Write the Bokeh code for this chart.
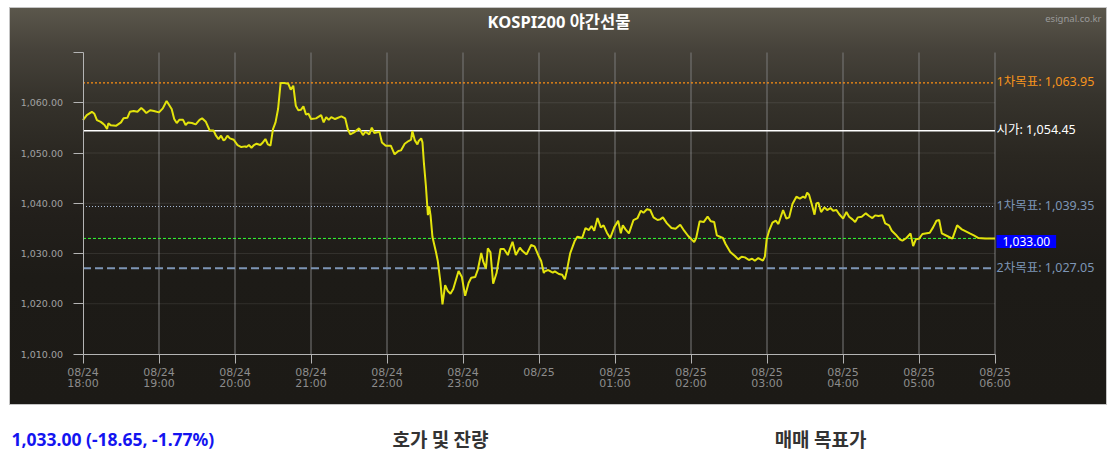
import datetime as dt
from bokeh.plotting import figure
from bokeh.models import Label, FixedTicker, NumeralTickFormatter, Range1d
from bokeh.embed import file_html
from bokeh.resources import INLINE

# ---------------- data ----------------
title_text = "KOSPI200 야간선물"
source_text = "esignal.co.kr"
session_start = dt.datetime(2023, 8, 24, 18, 0)
session_hours = 12

# minutes after 18:00 and night-futures price
minutes = [
    0, 3, 7, 9, 11, 14, 16, 17, 19, 20, 22, 26, 30, 32, 35, 37, 40, 43, 46, 48,
    50, 53, 56, 60, 63, 66, 70, 72, 74, 76, 79, 81, 83, 86, 89, 92, 94, 97, 100, 103,
    105, 107, 109, 111, 112, 114, 116, 119, 122, 125, 128, 129, 131, 133, 135, 137, 140, 142, 144, 146,
    148, 150, 152, 154, 156, 159, 162, 164, 166, 168, 170, 172, 174, 176, 178, 180,
    184, 188, 190, 192, 194, 196, 199, 204, 207, 209, 211, 214, 218, 221, 223, 226, 228, 230, 234, 236,
    239, 243, 246, 249, 251, 254, 257, 259, 260, 262, 264, 265, 267, 268,
    269.1, 270.7, 271.7, 272.3, 273.3, 274.4, 275.9, 278.6, 280.1, 282.2,
    283.8, 285.9, 288.0, 290.1, 292.3, 296.5, 299.1, 301.7, 304.4, 306.5,
    309.6, 311.7, 314.4, 316.0, 318.1, 319.6, 321.7, 323.8, 326.5, 329.6,
    332.3, 335.4, 337.0, 339.1, 341.7, 344.9, 347.0, 350.2, 353.8, 356.5,
    359.6, 361.7, 363.8,
    364.6, 367.3, 370.9, 372.5, 375.7, 378.3, 380.4, 382.0, 384.6, 388.3,
    390.4, 394.1, 396.7, 399.4, 401.5, 403.6, 406.2, 408.8, 411.0, 413.6,
    416.2, 419.4, 422.5, 424.6, 426.2, 428.3, 431.0, 434.6, 437.8, 440.4,
    442.5, 445.2, 447.8, 450.4, 453.6, 455.7, 457.8, 461.0, 464.6, 467.8,
    471.5, 474.6, 477.8, 480.4, 482.5, 484.1, 486.8, 490.0, 493.1, 495.7,
    498.3, 500.4, 505.2, 507.3, 511.0, 514.7, 517.3, 520.0, 522.6, 525.7,
    528.3, 530.4, 533.1, 536.8, 538.3,
    539.8, 541.7, 544.3, 546.9, 549.0, 552.7, 555.3, 557.5, 560.1, 563.2,
    565.9, 568.5, 570.1, 571.7, 573.2, 575.3, 577.5, 579.0, 580.6, 582.7,
    585.4, 587.5, 590.1, 592.2, 594.8, 596.9, 600.1, 602.7, 604.8, 607.5,
    609.6, 611.7, 614.8, 618.0, 620.6, 623.2, 625.4, 628.0, 631.1, 633.3,
    636.4, 638.5, 641.7, 644.8, 646.9, 650.1, 653.3, 655.4, 657.5, 660.1,
    662.7, 668.5, 671.1, 673.8, 675.9, 678.0, 682.2, 686.4, 690.1, 693.8,
    697.0, 700.1, 703.3, 707.0, 712.2, 720.0,
]
prices = [
    1056.56, 1057.55, 1058.20, 1057.80, 1056.56, 1056.20, 1055.80, 1055.56, 1054.77, 1055.90,
    1055.50, 1055.40, 1056.09, 1056.90, 1057.00, 1058.20, 1058.35, 1058.20, 1058.95, 1058.50,
    1057.95, 1058.50, 1058.35, 1058.08, 1058.88, 1060.34, 1058.75, 1056.76, 1055.96, 1056.60,
    1056.60, 1055.56, 1056.09, 1055.96, 1055.70, 1056.60, 1056.90, 1056.20, 1054.50, 1054.50,
    1053.44, 1052.78, 1053.44, 1052.50, 1052.64, 1053.44, 1052.90, 1052.64, 1051.58, 1051.18,
    1051.32, 1051.18, 1051.58, 1051.05, 1051.58, 1051.85, 1051.58, 1052.10, 1052.78, 1051.70,
    1051.45, 1054.77, 1056.09, 1058.75, 1063.92, 1063.92, 1063.79, 1062.59, 1063.39, 1059.41,
    1058.48, 1058.60, 1059.28, 1057.68, 1057.80, 1056.76,
    1056.89, 1057.55, 1056.09, 1057.15, 1056.60, 1057.15, 1056.76, 1057.30, 1056.89, 1054.77,
    1053.70, 1054.10, 1054.90, 1053.57, 1054.24, 1053.70, 1055.03, 1053.97, 1054.24, 1052.11,
    1051.45, 1051.45, 1049.73, 1050.39, 1050.52, 1051.85, 1052.38, 1052.64, 1054.37, 1052.51,
    1051.71, 1052.38, 1052.91, 1052.11,
    1048.13, 1043.49, 1039.77, 1037.65, 1039.38, 1037.52, 1033.27, 1030.36, 1028.50, 1024.25,
    1019.87, 1023.72, 1022.53, 1022.00, 1022.93, 1026.51, 1025.31, 1021.60, 1024.12, 1025.18,
    1025.31, 1026.77, 1030.09, 1028.36, 1027.03, 1031.02, 1030.22, 1023.99, 1026.11, 1030.89,
    1030.89, 1029.69, 1030.89, 1032.34, 1029.69, 1031.15, 1030.49, 1029.82, 1031.68, 1031.42,
    1029.56, 1028.50, 1026.11,
    1026.45, 1026.71, 1026.18, 1026.45, 1025.92, 1025.78, 1024.85, 1026.58, 1030.03, 1032.55,
    1033.35, 1033.08, 1035.07, 1034.67, 1035.47, 1034.54, 1037.06, 1035.20, 1035.60, 1034.14,
    1033.08, 1035.20, 1036.53, 1034.01, 1035.60, 1034.80, 1034.01, 1036.66, 1037.06, 1038.52,
    1038.12, 1038.79, 1038.65, 1037.19, 1036.66, 1036.79, 1037.19, 1036.00, 1035.07, 1034.94,
    1035.73, 1034.54, 1033.48, 1032.82, 1032.28, 1033.08, 1036.40, 1036.26, 1037.33, 1036.40,
    1036.26, 1033.61, 1033.08, 1031.89, 1030.29, 1029.50, 1028.83, 1029.37, 1029.23, 1028.70,
    1028.97, 1028.57, 1029.10, 1028.57, 1029.37,
    1032.90, 1034.54, 1036.13, 1036.53, 1035.87, 1038.65, 1036.93, 1037.19, 1039.85, 1041.31,
    1040.91, 1041.31, 1041.04, 1042.10, 1041.70, 1039.85, 1037.72, 1039.98, 1040.11, 1038.25,
    1039.18, 1038.65, 1039.05, 1038.52, 1038.65, 1037.86, 1036.93, 1038.25, 1037.33, 1036.79,
    1036.26, 1037.19, 1037.33, 1037.99, 1037.46, 1037.06, 1037.59, 1037.46, 1037.59, 1036.00,
    1035.60, 1034.54, 1033.74, 1032.82, 1032.55, 1033.08, 1034.01, 1031.49, 1032.82, 1032.95,
    1033.88, 1034.14, 1035.20, 1036.53, 1036.66, 1034.01, 1033.48, 1032.95, 1035.60, 1034.80,
    1034.41, 1034.01, 1033.61, 1033.08, 1033.00, 1033.00,
]

hour_labels = [
    "08/24\n18:00", "08/24\n19:00", "08/24\n20:00", "08/24\n21:00", "08/24\n22:00",
    "08/24\n23:00", "08/25", "08/25\n01:00", "08/25\n02:00", "08/25\n03:00",
    "08/25\n04:00", "08/25\n05:00", "08/25\n06:00",
]
y_ticks = [1010, 1020, 1030, 1040, 1050, 1060, 1070]
y_grid = [1020, 1030, 1040, 1050, 1060]

target1_high = 1063.95
open_price = 1054.45
target1_low = 1039.35
last_price = 1033.00
target2_low = 1027.05

label_target1_high = "1차목표: 1,063.95"
label_open = "시가: 1,054.45"
label_target1_low = "1차목표: 1,039.35"
label_last = "1,033.00"
label_target2_low = "2차목표: 1,027.05"

quote_text = "1,033.00 (-18.65, -1.77%)"
section_titles = ["호가 및 잔량", "매매 목표가"]

# ---------------- geometry (pixels inside the canvas) ----------------
EPOCH = dt.datetime(1970, 1, 1)


def ms(t):
    return (t - EPOCH).total_seconds() * 1000.0


W, H = 1110, 452                         # canvas
PANEL_X, PANEL_Y, PANEL_W, PANEL_H = 9, 7, 1098, 398   # dark chart panel
PX_LEFT, PX_RIGHT = 82.5, 994.5          # pixel x of session start / end
PX_TOP, PX_BOTTOM = 52.0, 353.5          # pixel y of y_ticks[-1] / y_ticks[0]

times = [session_start + dt.timedelta(minutes=m) for m in minutes]
session_end = session_start + dt.timedelta(hours=session_hours)
t0, t1 = ms(session_start), ms(session_end)
hour_ms = [ms(session_start + dt.timedelta(hours=h)) for h in range(session_hours + 1)]

ppx = (PX_RIGHT - PX_LEFT) / (t1 - t0)
x_lo = t0 - PX_LEFT / ppx
x_hi = t1 + (W - PX_RIGHT) / ppx
y_min, y_max = y_ticks[0], y_ticks[-1]
ppy = (PX_BOTTOM - PX_TOP) / (y_max - y_min)
y_hi = y_max + PX_TOP / ppy
y_lo = y_min - (H - PX_BOTTOM) / ppy

KR = "Noto Sans, Noto Sans CJK KR"

# ---------------- figure ----------------
p = figure(
    width=W, height=H,
    x_axis_type="datetime",
    x_range=Range1d(x_lo, x_hi),
    y_range=Range1d(y_lo, y_hi),
    toolbar_location=None,
    output_backend="svg",
    min_border_left=0, min_border_right=0, min_border_top=0, min_border_bottom=0,
)
p.border_fill_alpha = 0
p.background_fill_alpha = 0
p.outline_line_color = None
p.grid.visible = False

edge = "linear-gradient(#c4c4c4,#c4c4c4)"
px, py, pw, ph = PANEL_X, PANEL_Y, PANEL_W, PANEL_H
p.styles = {
    "background": (
        f"{edge} {px}px {py}px/{pw}px 1px no-repeat, "
        f"{edge} {px}px {py + ph - 1}px/{pw}px 1px no-repeat, "
        f"{edge} {px}px {py}px/1px {ph}px no-repeat, "
        f"{edge} {px + pw - 1}px {py}px/1px {ph}px no-repeat, "
        "linear-gradient(180deg, #5b574c 0px, #47433b 40px, #36332c 90px, #2a2721 150px, "
        f"#221f1b 210px, #1d1b17 270px, #1c1a16 {ph}px) {px}px {py}px/{pw}px {ph}px no-repeat, "
        "#ffffff"
    ),
}

# axes drawn at fixed data locations
xa = p.xaxis[0]
xa.fixed_location = y_min
xa.bounds = (t0, t1)
xa.ticker = FixedTicker(ticks=hour_ms)
xa.major_label_overrides = {int(t): lab for t, lab in zip(hour_ms, hour_labels)}
xa.axis_line_color = "#b4b4b4"
xa.major_tick_line_color = "#b4b4b4"
xa.major_tick_out = 9
xa.major_tick_in = 0
xa.minor_tick_line_color = None
xa.major_label_standoff = 3
xa.major_label_text_color = "#8c8c8c"
xa.major_label_text_font = "DejaVu Sans"
xa.major_label_text_font_size = "11px"
xa.major_label_text_line_height = 0.87

ya = p.yaxis[0]
ya.fixed_location = t0
ya.bounds = (y_min, y_max)
ya.ticker = FixedTicker(ticks=y_ticks)
ya.formatter = NumeralTickFormatter(format="0,0.00")
ya.major_label_overrides = {y_ticks[-1]: ""}
ya.axis_line_color = "#b4b4b4"
ya.major_tick_line_color = "#b4b4b4"
ya.major_tick_out = 10
ya.major_tick_in = 0
ya.minor_tick_line_color = None
ya.major_label_standoff = 10
ya.major_label_text_color = "#a2a2a2"
ya.major_label_text_font = "DejaVu Sans"
ya.major_label_text_font_size = "9.5px"

# grid lines (limited to the chart area)
p.segment(x0=hour_ms[1:], y0=y_min, x1=hour_ms[1:], y1=y_max,
          line_color="#7a7a7a", line_width=1)
p.segment(x0=t0, y0=y_grid, x1=t1, y1=y_grid,
          line_color="#ffffff", line_alpha=0.09, line_width=1)

# reference levels
p.segment(x0=t0, y0=target1_high, x1=t1, y1=target1_high,
          line_color="#ff9010", line_width=1.4, line_dash="2 2")
p.segment(x0=t0, y0=open_price, x1=t1, y1=open_price,
          line_color="#ffffff", line_width=1.5)
p.segment(x0=t0, y0=target1_low, x1=t1, y1=target1_low,
          line_color="#a9bcd8", line_width=1.2, line_dash="1 2")
p.segment(x0=t0, y0=last_price, x1=t1, y1=last_price,
          line_color="#33ff33", line_width=1, line_dash="3 2")
p.segment(x0=t0, y0=target2_low, x1=t1, y1=target2_low,
          line_color="#7d95b5", line_width=2, line_dash="8 4")

# price line
p.line(times, prices, line_color="#e3e30c", line_width=2)

# right-side level labels
for y, txt, col in [
    (target1_high, label_target1_high, "#f7941d"),
    (open_price, label_open, "#ffffff"),
    (target1_low, label_target1_low, "#7d95b5"),
    (target2_low, label_target2_low, "#7d95b5"),
]:
    p.add_layout(Label(x=t1, y=y, x_offset=1.5, y_offset=1, text=txt, text_color=col,
                       text_font=KR, text_font_size="12.5px",
                       text_align="left", text_baseline="middle"))

p.add_layout(Label(x=t1, y=last_price, x_offset=1.5, y_offset=-3, text=label_last,
                   text_color="#ffffff", text_font="Noto Sans", text_font_size="12px",
                   text_align="left", text_baseline="middle",
                   background_fill_color="#0000ff",
                   padding=dict(left=6, right=6, top=2, bottom=2)))

# title, source and texts under the panel (screen units: from canvas bottom-left)
p.add_layout(Label(x=558.5, y=H - 21, x_units="screen", y_units="screen", text=title_text,
                   text_color="#ffffff", text_font=KR, text_font_style="bold",
                   text_font_size="16.5px", text_align="center", text_baseline="middle"))
p.add_layout(Label(x=1101, y=H - 18, x_units="screen", y_units="screen", text=source_text,
                   text_color="#9a9a9a", text_font="Noto Sans", text_font_size="9.5px",
                   text_align="right", text_baseline="middle"))
p.add_layout(Label(x=11, y=H - 438.5, x_units="screen", y_units="screen", text=quote_text,
                   text_color="#1414f0", text_font="Noto Sans", text_font_style="bold",
                   text_font_size="17.5px", text_align="left", text_baseline="middle"))
for cx, txt in zip([440, 820], section_titles):
    p.add_layout(Label(x=cx, y=H - 437.5, x_units="screen", y_units="screen", text=txt,
                       text_color="#333333", text_font="Noto Sans CJK KR",
                       text_font_style="bold", text_font_size="19px",
                       text_align="center", text_baseline="middle"))

open("out.html", "w").write(file_html(p, INLINE))
